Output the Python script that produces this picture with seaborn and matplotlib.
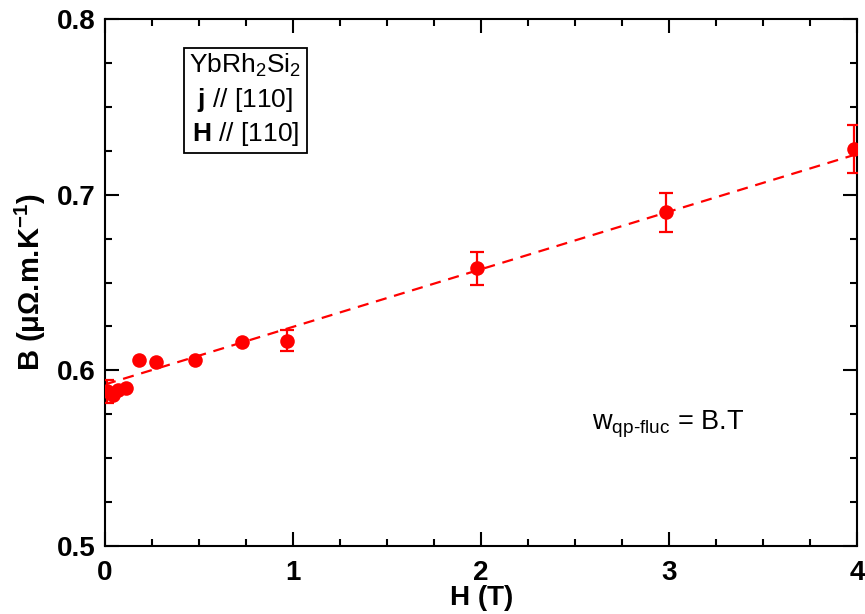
import numpy as np
import pandas as pd
import matplotlib
matplotlib.use("Agg")
import matplotlib.pyplot as plt
from matplotlib.ticker import MultipleLocator
import seaborn as sns

# Field dependence of the B coefficient (YbRh2Si2, j // H // [110])
field_T = [0.01, 0.04, 0.07, 0.11, 0.18, 0.27, 0.48, 0.73, 0.97, 1.98, 2.98, 3.98]
b_coef = [0.588, 0.586, 0.589, 0.590, 0.606, 0.605, 0.606, 0.616, 0.617, 0.658, 0.690, 0.726]
b_err = [0.0065, 0.0, 0.0, 0.0, 0.0, 0.0, 0.0, 0.0, 0.006, 0.0095, 0.011, 0.0138]

# Linear fit B(H) = b0 + slope * H
fit_b0 = 0.592
fit_slope = 0.0328
fit_range = [0.0, 4.0]

x_ticks = [0, 1, 2, 3, 4]
y_ticks = [0.5, 0.6, 0.7, 0.8]

sns.set_style("ticks")
plt.rcParams["font.family"] = ["Liberation Sans", "DejaVu Sans"]
plt.rcParams["mathtext.fontset"] = "custom"
plt.rcParams["mathtext.rm"] = "Liberation Sans"
plt.rcParams["mathtext.it"] = "Liberation Sans:italic"
plt.rcParams["mathtext.bf"] = "Liberation Sans:bold"

red = "#ff0000"

fig = plt.figure(figsize=(8.65, 6.14), dpi=100)
ax = fig.add_axes([0.1214, 0.1107, 0.8699, 0.8583])

df = pd.DataFrame({"H": field_T, "B": b_coef, "err": b_err})
fit_x = np.array(fit_range)
fit_df = pd.DataFrame({"H": fit_x, "B": fit_b0 + fit_slope * fit_x})

sns.lineplot(data=fit_df, x="H", y="B", ax=ax, color=red, lw=1.6,
             dashes=False, linestyle=(0, (5, 3.5)), zorder=2)

eb = df[df["err"] > 0]
ax.errorbar(eb["H"], eb["B"], yerr=eb["err"], fmt="none", ecolor=red,
            elinewidth=1.6, capsize=5, capthick=1.6, zorder=3)
sns.scatterplot(data=df, x="H", y="B", ax=ax, color=red, s=110,
                edgecolor=red, linewidth=0, zorder=4)

ax.set_xlim(0, 4)
ax.set_ylim(0.5, 0.8)
ax.set_xticks(x_ticks)
ax.set_xticklabels([str(v) for v in x_ticks])
ax.set_yticks(y_ticks)
ax.set_yticklabels([f"{v:.1f}" for v in y_ticks])
ax.xaxis.set_minor_locator(MultipleLocator(0.25))
ax.yaxis.set_minor_locator(MultipleLocator(0.025))

ax.tick_params(which="both", direction="in", top=True, right=True,
               color="black", width=1.5)
ax.tick_params(which="major", length=10, labelsize=20, labelcolor="black")
ax.tick_params(axis="x", which="major", pad=10)
ax.tick_params(axis="y", which="major", pad=7)
ax.tick_params(which="minor", length=5)
for lab in ax.get_xticklabels() + ax.get_yticklabels():
    lab.set_fontweight("bold")
for sp in ax.spines.values():
    sp.set_visible(True)
    sp.set_linewidth(1.5)
    sp.set_color("black")

ax.set_xlabel("H (T)", fontsize=20, fontweight="bold", labelpad=-1, color="black")
ax.set_ylabel(r"B ($\mathbf{\mu\Omega}$.m.K$^{\mathbf{-1}}$)", fontsize=21,
              fontweight="bold", labelpad=6, color="black")

ax.text(0.745, 0.7538, "YbRh$_2$Si$_2$\n$\\mathbf{j}$ // [110]\n$\\mathbf{H}$ // [110]",
        fontsize=19, ha="center", va="center", linespacing=1.3, color="black",
        bbox=dict(boxstyle="square,pad=0.2", fc="white", ec="black", lw=1.3))

ax.text(2.995, 0.569, r"w$_{\mathrm{qp\text{-}fluc}}$ = B.T", fontsize=19.5,
        ha="center", va="center", color="black")

fig.savefig("out.png", dpi=100)
